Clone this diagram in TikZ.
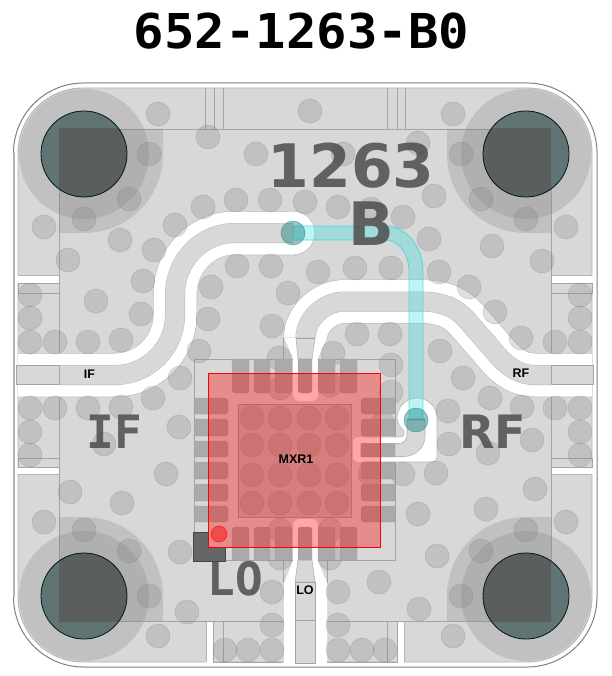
\documentclass[tikz,border=0pt]{standalone}
\usepackage{fontspec}
\usepackage{graphicx}
\setmainfont{Liberation Sans}
\setmonofont{DejaVu Sans Mono}
\newfontfamily\dejasans{DejaVu Sans}
\definecolor{cu}{HTML}{D8D8D8}
\definecolor{edge}{HTML}{B4B4B4}
\definecolor{rule}{HTML}{A4A4A4}
\definecolor{over}{HTML}{808080}
\definecolor{padc}{HTML}{AAAAAA}
\definecolor{teal1}{HTML}{28DCDC}
\definecolor{teal2}{HTML}{40D8D0}
\definecolor{drillA}{HTML}{607474}
\definecolor{drillB}{HTML}{5A5F5E}
\definecolor{silk}{HTML}{484848}
\tikzset{
  ov/.style={fill=over,fill opacity=.25},
  via/.style={fill=over,fill opacity=.25,draw=over,draw opacity=.3,line width=.6pt},
  rl/.style={draw=rule,line width=.9pt},
  cl/.style={line width=43pt,draw=white},
  cledge/.style={line width=44pt,draw=edge},
  tr/.style={line width=19.2pt,draw=cu},
  tredge/.style={line width=20pt,draw=edge},
  padf/.style={fill=padc,draw=over,draw opacity=.4,line width=.4pt},
  silktext/.style={text=silk,text opacity=.82,inner sep=0pt,font=\ttfamily\bfseries},
  silksans/.style={text=silk,text opacity=.82,inner sep=0pt,font=\dejasans\bfseries},
  small/.style={text=black,inner sep=0pt,font=\bfseries\fontsize{12.5pt}{13pt}\selectfont}
}
\begin{document}
\begin{tikzpicture}[x=1pt,y=-1pt]
\useasboundingbox (0,0) rectangle (611,676);
\fill[white] (0,0) rectangle (611,676);
% copper
\path[fill=cu,draw=edge,line width=.9pt,rounded corners=65pt] (18,88) rectangle (592,662);
% side gaps
\fill[white] (17,275) rectangle (59,283);
\fill[white] (17,467) rectangle (59,474);
\fill[white] (551,275) rectangle (593,283);
\fill[white] (551,467) rectangle (593,474);
\fill[white] (206,621) rectangle (213,663);
\fill[white] (397,621) rectangle (404,663);
\draw[draw=edge,line width=.9pt] (18,275)--(59,275) (18,283)--(59,283) (18,467)--(59,467) (18,474)--(59,474);
\draw[draw=edge,line width=.9pt] (551,275)--(592,275) (551,283)--(592,283) (551,467)--(592,467) (551,474)--(592,474);
\draw[draw=edge,line width=.9pt] (206,621)--(206,662) (213,621)--(213,662) (397,621)--(397,662) (404,621)--(404,662);
% board frame lines
\draw[rl] (59,129) rectangle (551,621);
\draw[rl] (205,88)--(205,129) (214,88)--(214,129) (223,88)--(223,129);
\draw[rl] (387,88)--(387,129) (397,88)--(397,129) (405,88)--(405,129);
\draw[rl] (18,283) rectangle (59,293);
\draw[rl] (18,458) rectangle (59,467);
\draw[rl] (551,283) rectangle (592,293);
\draw[rl] (551,458) rectangle (592,467);
\draw[rl] (18,353)--(59,353) (18,396)--(59,396) (551,353)--(592,353) (551,396)--(592,396);
\draw[rl] (213,621)--(213,662)--(283,662) (223,621)--(223,662);
\draw[rl] (327,662)--(397,662)--(397,621) (387,621)--(387,662);
\draw[rl] (194,359) rectangle (395,560);
\draw[rl] (283,338)--(283,359) (305,338)--(327,338) (283,338)--(296,338);
\draw[rl] (283,560)--(283,583) (327,560)--(327,583);
% clearances, edges first
\draw[cledge] (18,375) -- (115,375) .. controls (148,375) and (175,348) .. (175,315) -- (175,295) .. controls (175,261) and (201,233) .. (235,233) -- (293,233);
\fill[edge] (293,233) circle[radius=22];
\draw[cledge] (592,375) -- (535,375) .. controls (515,375) and (503,362) .. (493,350) -- (467,320) .. controls (457,309) and (445,301.5) .. (420,301.5) -- (345,301.5) .. controls (323,301.5) and (305.5,320) .. (305.5,338);
\draw[cl] (18,375) -- (115,375) .. controls (148,375) and (175,348) .. (175,315) -- (175,295) .. controls (175,261) and (201,233) .. (235,233) -- (293,233);
\fill[white] (293,233) circle[radius=21.5];
\draw[cl] (592,375) -- (535,375) .. controls (515,375) and (503,362) .. (493,350) -- (467,320) .. controls (457,309) and (445,301.5) .. (420,301.5) -- (345,301.5) .. controls (323,301.5) and (305.5,320) .. (305.5,338);
% mixer top pin clearance
\fill[white] (284,337.5) -- (327,337.5) -- (318,358) [rounded corners=6pt] -- (318,401) -- (293,401) [sharp corners] -- (293,358) -- cycle;
% LO clearance
\fill[white] (293,664) -- (284,664) -- (284,583) -- (293,561) [rounded corners=6pt] -- (293,519) -- (318,519) [sharp corners] -- (318,561) -- (327,583) -- (327,664) -- cycle;
% RF pad clearance
\path[fill=white,draw=edge,line width=.6pt] (361,437) -- (400,437) .. controls (403,437) and (405,435) .. (404,431) .. controls (401,428) and (397,423) .. (397,418) .. controls (397,407) and (406,398) .. (417,398) .. controls (428,398) and (437,407) .. (437,418) -- (437,456) .. controls (437,460) and (435,462) .. (431,462) -- (361,462) -- cycle;
\fill[white] (353,443) .. controls (353,439) and (355,437) .. (359,437) -- (365,437) -- (365,462) -- (359,462) .. controls (355,462) and (353,460) .. (353,456) -- cycle;
% traces
\draw[tredge] (59,375) -- (115,375) .. controls (148,375) and (175,348) .. (175,315) -- (175,295) .. controls (175,261) and (201,233) .. (235,233) -- (293,233);
\draw[tr] (59,375) -- (115,375) .. controls (148,375) and (175,348) .. (175,315) -- (175,295) .. controls (175,261) and (201,233) .. (235,233) -- (293,233);
\draw[tredge] (551,375) -- (535,375) .. controls (515,375) and (503,362) .. (493,350) -- (467,320) .. controls (457,309) and (445,301.5) .. (420,301.5) -- (345,301.5) .. controls (323,301.5) and (305.5,320) .. (305.5,338);
\draw[tr] (551,375) -- (535,375) .. controls (515,375) and (503,362) .. (493,350) -- (467,320) .. controls (457,309) and (445,301.5) .. (420,301.5) -- (345,301.5) .. controls (323,301.5) and (305.5,320) .. (305.5,338);
\path[fill=cu,draw=edge,line width=.6pt] (296,338) -- (315,338) -- (312,359) -- (298,359) -- cycle;
\draw[rl] (296,338)--(315,338);
\path[fill=cu,draw=edge,line width=.6pt] (298,560) -- (312,560) -- (315,582) -- (295,582) -- cycle;
\path[fill=cu,draw=rule,line width=.9pt] (295,582) rectangle (315,663);
\draw[rl] (295,620)--(315,620);
\path[fill=cu,draw=rule,line width=.9pt] (16,365) rectangle (59,384);
\path[fill=cu,draw=rule,line width=.9pt] (551,365) rectangle (593,384);
\path[fill=cu,draw=edge,line width=.6pt] (361,443.5) -- (398,443.5) .. controls (404,443.5) and (407,440) .. (407,434) -- (407,419) -- (425,419) -- (425,436) .. controls (425,448) and (415,456.5) .. (403,456.5) -- (361,456.5) -- cycle;
\draw[rl] (407,419)--(425,419);
% corner mounting holes
\foreach \cx/\cy in {84/154,526/154,84/596,526/596} \fill[ov] (\cx,\cy) circle[radius=65];
\path[ov] (59,129) -- (163,129) -- (163,154) .. controls (163,198) and (128,233) .. (84,233) -- (59,233) -- cycle;
\path[ov] (551,129) -- (447,129) -- (447,154) .. controls (447,198) and (482,233) .. (526,233) -- (551,233) -- cycle;
\path[ov] (59,621) -- (163,621) -- (163,596) .. controls (163,552) and (128,517) .. (84,517) -- (59,517) -- cycle;
\path[ov] (551,621) -- (447,621) -- (447,596) .. controls (447,552) and (482,517) .. (526,517) -- (551,517) -- cycle;
\foreach \cx/\cy in {84/154,526/154,84/596,526/596} \fill[drillA] (\cx,\cy) circle[radius=43];
\begin{scope}\clip (59,129) rectangle (551,621);
\foreach \cx/\cy in {84/154,526/154,84/596,526/596} \fill[drillB] (\cx,\cy) circle[radius=43];
\end{scope}
\foreach \cx/\cy in {84/154,526/154,84/596,526/596} \draw[draw=black!80!teal,line width=.8pt] (\cx,\cy) circle[radius=43];
% vias
\foreach \vx/\vy in {158/114,208/137,256/154,149/154,129/199,84/219,44/227,120/240,68/260,154/250,175/225,203/207,236/200,270/200,305/202,143/281,96/301,141/314,121/340,88/342,55/342,30/342,30/318,30/295,237/266,271/266,211/287,288/293,208/319,272/326,199/351,279/358,180/378,310/111,453/114,418/143,343/154,461/154,481/199,526/219,566/227,434/196,338/207,371/209,403/217,429/239,492/246,542/261,318/272,355/268,391/268,439/272,469/287,495/312,521/338,555/342,580/342,580/318,580/295,357/334,390/334,333/353,391/365,391/392,440/351,463/378,153/398,121/407,88/408,55/408,30/408,30/432,30/455,179/427,104/444,166/474,70/492,122/503,44/522,84/530,129/551,180/552,149/596,187/612,158/636,225/650,248/650,272/650,272/625,272/592,280/558,490/398,522/407,555/408,580/408,580/432,580/455,448/411,383/424,532/440,449/444,488/453,370/474,403/474,436/473,535/489,486/509,418/514,566/522,526/530,481/551,437/556,461/596,379/582,338/592,419/609,338/625,453/636,338/650,362/650,385/650,280/388,330/385,280/530,330/530,330/558}
  \path[via] (\vx,\vy) circle[radius=12];
% package pads
\foreach \xa/\xb in {232/249,254/270,275/292,298/312,318/335,340/357} {
  \path[padf] (\xa,359) -- (\xb,359) [rounded corners=3pt] -- (\xb,393) -- (\xa,393) [sharp corners] -- cycle;
  \path[padf] (\xa,560) -- (\xb,560) [rounded corners=3pt] -- (\xb,527) -- (\xa,527) [sharp corners] -- cycle;
}
\foreach \ya/\yb in {398/414,419/436,441/457,462/479,484/501,506/522}
  \path[padf] (194,\ya) -- (194,\yb) [rounded corners=3pt] -- (228,\yb) -- (228,\ya) [sharp corners] -- cycle;
\foreach \ya/\yb in {398/414,419/436,444/457,462/479,484/501,506/522}
  \path[padf] (395,\ya) -- (395,\yb) [rounded corners=3pt] -- (361,\yb) -- (361,\ya) [sharp corners] -- cycle;
% exposed pad
\path[fill=over,fill opacity=.25,draw=over,draw opacity=.6,line width=.7pt] (238,404) rectangle (351,517);
\foreach \vx in {252,280,309,337} \foreach \vy in {418,445,475,503}
  \path[via] (\vx,\vy) circle[radius=12];
% LO marker
\path[fill=black!60,draw=black!72,line width=.7pt] (193,532) -- (208,532) -- (208,547) -- (225,547) -- (225,561) -- (193,561) -- cycle;
% teal layer
\path[fill=teal1,fill opacity=.3,draw=teal2,draw opacity=.8,line width=.8pt] (293,226) -- (385,226) .. controls (407,226) and (423,247) .. (423,272) -- (423,420) -- (409,420) -- (409,272) .. controls (409,254) and (399,240) .. (385,240) -- (293,240) -- cycle;
\foreach \tx/\ty in {293/233,416/420}
  \path[fill=black!10!teal,fill opacity=.4,draw=teal,draw opacity=.45,line width=.7pt] (\tx,\ty) circle[radius=12];
% mixer overlay
\path[fill=red,fill opacity=.35,draw=red,line width=1pt] (208,373) rectangle (380,547);
\path[fill=red,fill opacity=.45,draw=red,draw opacity=.6,line width=.7pt] (219,534) circle[radius=8];
% silk labels
\node[silksans] (silknum) at (351,166) {\fontsize{60pt}{60pt}\selectfont 1263};
\node[silksans] (silkb) at (371,223.5) {\fontsize{60pt}{60pt}\selectfont B};
\node[silktext] (silkif) at (114.5,432) {\fontsize{46pt}{46pt}\selectfont IF};
\node[silksans] (silkrf) at (492.5,432) {\fontsize{46pt}{46pt}\selectfont RF};
\node[silktext] (silklo) at (235,578.5) {\fontsize{46pt}{46pt}\selectfont LO};
\node[small] (labif) at (89.5,374) {IF};
\node[small] (labrf) at (521,373) {RF};
\node[small] (lablo) at (305,590) {LO};
\node[small] (labmx) at (296,459) {MXR1};
% title
\node[inner sep=0pt,anchor=base,font=\ttfamily\bfseries\fontsize{48pt}{50pt}\selectfont] (title) at (301.5,49) {\scalebox{1.055}[1]{652-1263-B0}};
% outline
\path[draw=black!50,line width=1pt,rounded corners=70pt] (13.5,83) rectangle (597,667);
\draw[draw=edge,line width=2pt] (14,153)--(14,597);
\end{tikzpicture}
\end{document}
